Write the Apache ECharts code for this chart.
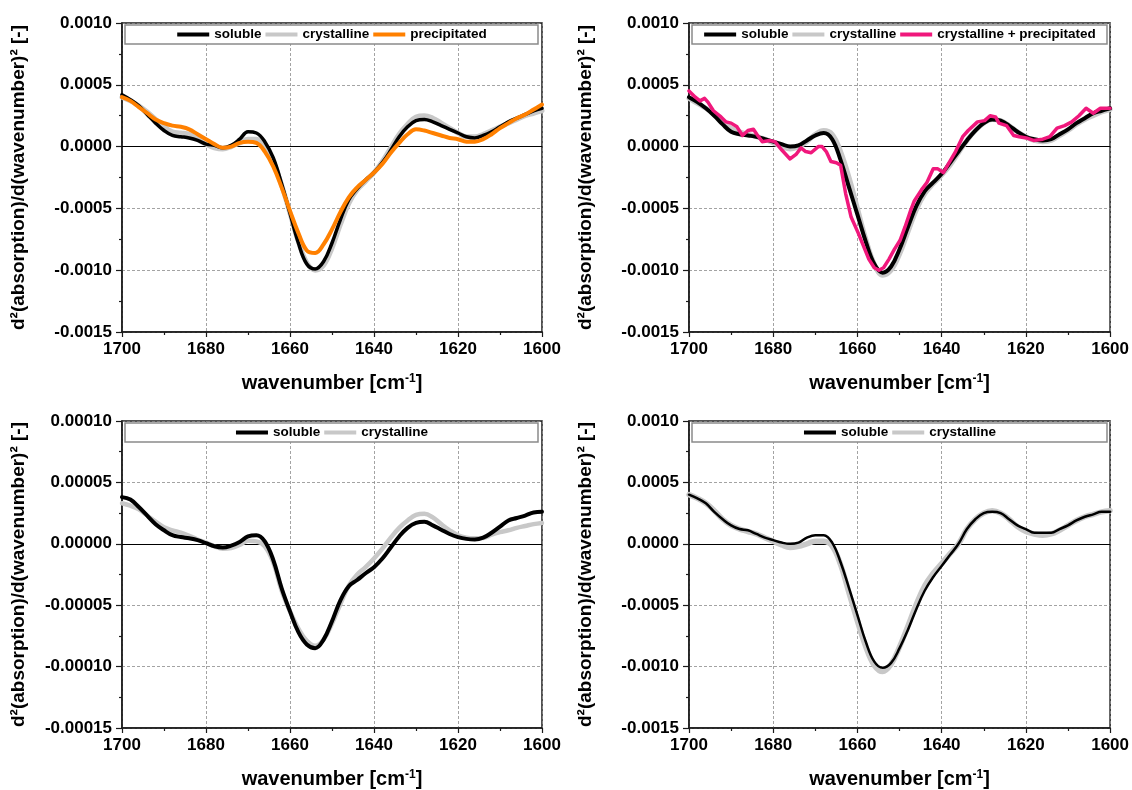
<!DOCTYPE html>
<html>
<head>
<meta charset="utf-8">
<script src="https://cdn.jsdelivr.net/npm/echarts@6/dist/echarts.min.js"></script>
<style>
  html, body { margin: 0; padding: 0; background: #ffffff; }
  #chart { width: 1132px; height: 790px; }
</style>
</head>
<body>
<div id="chart"></div>
<script>
// ---- wavenumber grid shared by the smooth spectra [cm^-1] ----
const wavenumbers = [
  1700, 1698, 1696, 1694, 1692, 1690, 1688, 1686, 1684, 1682,
  1680, 1678, 1676, 1674, 1672, 1670, 1668, 1666, 1664, 1662,
  1660, 1658, 1656, 1654, 1652, 1650, 1648, 1646, 1644, 1642,
  1640, 1638, 1636, 1634, 1632, 1630, 1628, 1626, 1624, 1622,
  1620, 1618, 1616, 1614, 1612, 1610, 1608, 1606, 1604, 1602,
  1600
];

// ---- panel A: soluble / crystalline / precipitated ----
const aSoluble = [
  0.00042, 0.00038, 0.00033, 0.00026, 0.00019, 0.00013, 0.00009, 0.00008, 0.00007, 0.00005,
  0.00002, 0.00001, -0.00001, 0.00001, 0.00006, 0.00012, 0.00011, 0.00004, -0.00009, -0.0003,
  -0.00054, -0.00078, -0.00095, -0.00099, -0.00093, -0.00078, -0.00059, -0.00043, -0.00034, -0.00027,
  -0.00021, -0.00013, -0.00003, 0.00008, 0.00016, 0.00021, 0.00022, 0.0002, 0.00017, 0.00014,
  0.00011, 0.00008, 0.00007, 0.00009, 0.00012, 0.00016, 0.0002, 0.00023, 0.00026, 0.00029,
  0.00031
];
const aCrystalline = [
  0.0004, 0.00037, 0.00033, 0.00028, 0.00022, 0.00016, 0.00012, 0.00011, 0.0001, 0.00006,
  0.00002, -0.00001, -0.00002, 0.0, 0.00003, 0.00006, 0.00006, 0.0, -0.00012, -0.00031,
  -0.00054, -0.00077, -0.00094, -0.001, -0.00096, -0.00082, -0.00063, -0.00046, -0.00035, -0.00028,
  -0.00021, -0.00012, -0.00001, 0.0001, 0.00018, 0.00024, 0.00025, 0.00023, 0.00019, 0.00015,
  0.00011, 0.00008, 0.00008, 0.0001, 0.00013, 0.00016, 0.00019, 0.00022, 0.00025, 0.00027,
  0.00029
];
const aPrecipitated = [
  0.0004, 0.00037, 0.00032, 0.00027, 0.00022, 0.00019, 0.00017, 0.00016, 0.00014, 0.0001,
  0.00006, 0.00002, -0.00001, 0.0, 0.00003, 0.00004, 0.00003, -0.00004, -0.00016, -0.00033,
  -0.00052, -0.0007, -0.00084, -0.00086, -0.00079, -0.00067, -0.00053, -0.00041, -0.00033, -0.00027,
  -0.00021, -0.00014, -0.00005, 0.00003, 0.0001, 0.00014, 0.00013, 0.00011, 0.00009, 0.00007,
  0.00006, 0.00004, 0.00004, 0.00006, 0.0001, 0.00015, 0.00019, 0.00023, 0.00026, 0.0003,
  0.00034
];

// ---- panel B: soluble / crystalline / crystalline + precipitated ----
const bSoluble = [
  0.0004, 0.00036, 0.00031, 0.00025, 0.00018, 0.00012, 0.0001, 0.00009, 0.00008, 0.00006,
  0.00004, 0.00002, 0.0, 0.00001, 0.00005, 0.00009, 0.00011, 0.00006, -0.00011, -0.00033,
  -0.00055, -0.00077, -0.00095, -0.00102, -0.00097, -0.00083, -0.00065, -0.00048, -0.00036, -0.00029,
  -0.00022, -0.00013, -0.00004, 0.00005, 0.00013, 0.00019, 0.00022, 0.00021, 0.00017, 0.00012,
  0.00008, 0.00006, 0.00005, 0.00006, 0.0001, 0.00014, 0.00019, 0.00023, 0.00027, 0.00029,
  0.00031
];
const bCrystalline = [
  0.00039, 0.00035, 0.00031, 0.00026, 0.0002, 0.00015, 0.00012, 0.0001, 0.00008, 0.00006,
  0.00003, 0.0, -0.00002, 0.0, 0.00004, 0.0001, 0.00013, 0.0001, -0.00004, -0.00025,
  -0.0005, -0.00075, -0.00095, -0.00104, -0.001, -0.00087, -0.00069, -0.00051, -0.00038, -0.0003,
  -0.00023, -0.00015, -0.00005, 0.00005, 0.00013, 0.00019, 0.00022, 0.00021, 0.00017, 0.00012,
  0.00008, 0.00005, 0.00004, 0.00005, 0.00009, 0.00013, 0.00018, 0.00022, 0.00025, 0.00028,
  0.0003
];
// the mixed sample is a noisier trace, sampled on its own wavenumbers
const bMixedWavenumbers = [
  1700, 1698.5, 1697.4, 1696.3, 1695.5, 1694.2, 1692.4, 1691.2, 1690, 1688.6,
  1687.3, 1686, 1684.7, 1683.9, 1682.6, 1680.9, 1679.6, 1677.9, 1676, 1674.5,
  1673.4, 1672.3, 1671, 1669.3, 1668.4, 1667.4, 1666.3, 1665, 1664, 1662.8,
  1661.5, 1659.8, 1658.5, 1657.3, 1656, 1654.9, 1653.8, 1652.5, 1651.2, 1649.9,
  1648.7, 1647.4, 1646.5, 1644.8, 1643.5, 1642, 1640.9, 1639.6, 1638.4, 1636.7,
  1635, 1633.7, 1631.5, 1629.8, 1628.5, 1627.2, 1626.4, 1624.6, 1622.9, 1621.6,
  1619.9, 1618.2, 1616, 1614.3, 1612.6, 1610.8, 1609.1, 1607.4, 1605.7, 1604,
  1602.3, 1600
];
const bMixed = [
  0.00045, 0.0004, 0.00037, 0.00039, 0.00036, 0.00029, 0.00024, 0.0002, 0.00019, 0.00016,
  0.00009, 0.00013, 0.00014, 0.0001, 0.00004, 0.00005, 0.00004, -0.00003, -0.0001, -0.00006,
  -0.00001, -0.00004, -0.00005, 0.0, 0.0, -0.00004, -0.00012, -0.00013, -0.00015, -0.00038,
  -0.00057, -0.0007, -0.00081, -0.00091, -0.00098, -0.001, -0.00098, -0.00091, -0.00083, -0.00076,
  -0.00065, -0.00052, -0.00044, -0.00035, -0.00029, -0.00018, -0.00018, -0.00021, -0.00014, -0.00004,
  0.00008, 0.00013, 0.0002, 0.00021, 0.00025, 0.00024, 0.00019, 0.00017, 0.00009, 0.00008,
  0.00007, 0.00005, 0.00006, 0.00008, 0.00015, 0.00017, 0.0002, 0.00025, 0.00031, 0.00027,
  0.00031, 0.00031
];

// ---- panel C: soluble / crystalline (tenfold smaller scale) ----
const cSoluble = [
  0.000038, 0.000036, 0.00003, 0.000023, 0.000016, 0.000011, 0.000007, 0.0000055, 0.0000045, 0.000003,
  0.0000005, -0.000002, -0.000003, -0.0000015, 0.0000015, 0.000006, 0.000007, 0.000002, -0.000013, -0.000036,
  -0.000055, -0.000072, -0.000082, -0.000085, -0.000078, -0.000063, -0.000046, -0.0000345, -0.0000295, -0.000024,
  -0.000019, -0.000012, -0.000003, 0.000006, 0.000013, 0.000017, 0.000018, 0.000015, 0.0000115, 0.000008,
  0.0000055, 0.000004, 0.0000035, 0.000005, 0.000009, 0.000014, 0.000019, 0.000021, 0.000023, 0.0000255,
  0.000026
];
const cCrystalline = [
  0.000033, 0.000031, 0.000028, 0.000023, 0.000018, 0.0000135, 0.000011, 0.000009, 0.0000065, 0.0000035,
  0.000001, -0.000002, -0.000004, -0.0000035, -0.000001, 0.0000025, 0.000002, -0.000002, -0.000015, -0.000038,
  -0.000055, -0.000069, -0.000079, -0.000083, -0.000078, -0.000065, -0.000049, -0.000034, -0.000025, -0.000019,
  -0.000012, -0.000004, 0.000005, 0.000013, 0.000019, 0.0000235, 0.0000245, 0.0000215, 0.000016, 0.000011,
  0.000007, 0.000005, 0.0000045, 0.0000048, 0.0000075, 0.0000095, 0.000011, 0.000013, 0.0000145, 0.000016,
  0.000017
];

// ---- panel D: soluble / crystalline ----
const dSoluble = [
  0.0004, 0.00037, 0.00033, 0.00026, 0.0002, 0.00015, 0.00012, 0.00011, 0.00008, 0.00005,
  0.00003, 0.00001, 0.0, 0.00001, 0.00005, 0.00007, 0.00007, 0.00001, -0.00015, -0.00036,
  -0.00058, -0.0008, -0.00096, -0.00101, -0.00097, -0.00085, -0.0007, -0.00053, -0.00038, -0.00027,
  -0.00018, -0.00009, 0.0, 0.00012, 0.0002, 0.00025, 0.00026, 0.00025, 0.0002, 0.00015,
  0.00012, 0.00009, 0.00009, 0.00009, 0.00012, 0.00015, 0.00019, 0.00022, 0.00024, 0.00026,
  0.00026
];
const dCrystalline = [
  0.0004, 0.00037, 0.00033, 0.00027, 0.0002, 0.00015, 0.00012, 0.0001, 0.00008, 0.00005,
  0.00002, -0.00001, -0.00003, -0.00002, 0.0, 0.00002, 0.00002, -0.00002, -0.00017, -0.0004,
  -0.00063, -0.00084, -0.00099, -0.00104, -0.00098, -0.00084, -0.00067, -0.00049, -0.00034, -0.00024,
  -0.00016, -0.00008, 0.0, 0.00012, 0.0002, 0.00025, 0.00027, 0.00025, 0.0002, 0.00014,
  0.0001, 0.00008, 0.00007, 0.00008, 0.00011, 0.00015, 0.00019, 0.00022, 0.00024, 0.00026,
  0.00027
];

// ---- axis ranges ----
const xRange = { min: 1600, max: 1700, step: 20 };
const yRangeLarge = { min: -0.0015, max: 0.001, step: 0.0005, decimals: 4 };
const yRangeSmall = { min: -0.00015, max: 0.0001, step: 0.00005, decimals: 5 };

// ---- styling ----
const FONT = '"Liberation Sans", Arial, Helvetica, sans-serif';
const INK = '#1a1a1a';
const COLORS = {
  soluble: '#000000',
  crystalline: '#c8c8c8',
  precipitated: '#ff8000',
  'crystalline + precipitated': '#f0187c'
};
const LEGEND_ITEM_W = 32;
const LEGEND_ITEM_H = 4;
const LEGEND_GAP = 4;
const LEGEND_FONT_SIZE = 13.5;

const pair = (xs, ys) => xs.map((x, i) => [x, ys[i]]);

const panels = [
  {
    box: { left: 122, top: 23, width: 420, height: 309 },
    y: yRangeLarge,
    legend: ['soluble', 'crystalline', 'precipitated'],
    lines: [
      { name: 'crystalline', data: pair(wavenumbers, aCrystalline), width: 5 },
      { name: 'soluble', data: pair(wavenumbers, aSoluble), width: 3.5 },
      { name: 'precipitated', data: pair(wavenumbers, aPrecipitated), width: 4 }
    ]
  },
  {
    box: { left: 689, top: 23, width: 422, height: 309 },
    y: yRangeLarge,
    legend: ['soluble', 'crystalline', 'crystalline + precipitated'],
    lines: [
      { name: 'crystalline', data: pair(wavenumbers, bCrystalline), width: 5 },
      { name: 'soluble', data: pair(wavenumbers, bSoluble), width: 4 },
      { name: 'crystalline + precipitated', data: pair(bMixedWavenumbers, bMixed), width: 3.5, rough: true }
    ]
  },
  {
    box: { left: 122, top: 421, width: 420, height: 308 },
    y: yRangeSmall,
    legend: ['soluble', 'crystalline'],
    lines: [
      { name: 'crystalline', data: pair(wavenumbers, cCrystalline), width: 4.5 },
      { name: 'soluble', data: pair(wavenumbers, cSoluble), width: 4 }
    ]
  },
  {
    box: { left: 689, top: 421, width: 422, height: 308 },
    y: yRangeLarge,
    legend: ['soluble', 'crystalline'],
    lines: [
      { name: 'crystalline', data: pair(wavenumbers, dCrystalline), width: 5.5 },
      { name: 'soluble', data: pair(wavenumbers, dSoluble), width: 2.5 }
    ]
  }
];

// measure legend text so each legend can be centred over its own plot
const measureCtx = document.createElement('canvas').getContext('2d');
measureCtx.font = 'bold ' + LEGEND_FONT_SIZE + 'px ' + FONT;
function legendWidth(names) {
  let w = 0;
  names.forEach((n, i) => {
    w += LEGEND_ITEM_W + 5 + measureCtx.measureText(n).width;
    if (i > 0) w += LEGEND_GAP;
  });
  return w;
}

const tickLabel = { color: '#000', fontSize: 17, fontWeight: 'bold', fontFamily: FONT };
const nameStyle = { color: '#000', fontSize: 19, fontWeight: 'bold', fontFamily: FONT };

const option = {
  backgroundColor: '#ffffff',
  animation: false,
  grid: [], xAxis: [], yAxis: [], series: [], legend: [], graphic: []
};

panels.forEach((p, gi) => {
  option.grid.push(Object.assign({
    show: true, borderColor: INK, borderWidth: 1.5, backgroundColor: 'transparent',
    containLabel: false
  }, p.box));

  option.xAxis.push({
    gridIndex: gi, type: 'value',
    min: xRange.min, max: xRange.max, interval: xRange.step, inverse: true,
    axisLine: { show: true, onZero: false, lineStyle: { color: INK, width: 1.5 } },
    axisTick: { show: true, inside: false, length: 5, lineStyle: { color: INK, width: 1.2 } },
    minorTick: { show: true, splitNumber: 2, length: 3, lineStyle: { color: INK, width: 1.2 } },
    splitLine: { show: true, lineStyle: { color: '#8c8c8c', type: [3, 2], width: 0.8 } },
    axisLabel: Object.assign({ margin: 9, formatter: v => String(v) }, tickLabel),
    name: 'wavenumber [cm{sup|-1}]',
    nameLocation: 'middle', nameGap: 41,
    nameTextStyle: Object.assign({}, nameStyle, {
      fontSize: 20,
      rich: {
        sup: { fontSize: 12, fontWeight: 'bold', fontFamily: FONT, color: '#000',
               verticalAlign: 'top', lineHeight: 14 }
      }
    })
  });

  const yr = p.y;
  option.yAxis.push({
    gridIndex: gi, type: 'value',
    min: yr.min, max: yr.max, interval: yr.step,
    axisLine: { show: true, onZero: false, lineStyle: { color: INK, width: 1.5 } },
    axisTick: { show: true, inside: false, length: 6, lineStyle: { color: INK, width: 1.2 } },
    minorTick: { show: true, splitNumber: 2, length: 3, lineStyle: { color: INK, width: 1.2 } },
    splitLine: { show: true, lineStyle: { color: '#8c8c8c', type: [3, 2], width: 0.8 } },
    axisLabel: Object.assign({
      margin: 10,
      formatter: v => (Math.abs(v) < 1e-12 ? 0 : v).toFixed(yr.decimals)
    }, tickLabel),
    name: 'd\u00B2(absorption)/d(wavenumber)\u00B2 [-]',
    nameLocation: 'middle', nameGap: 94,
    nameTextStyle: nameStyle
  });

  p.lines.forEach((ln, si) => {
    const s = {
      type: 'line', name: ln.name, xAxisIndex: gi, yAxisIndex: gi,
      data: ln.data, showSymbol: false, symbol: 'none',
      smooth: ln.rough ? false : 0.4,
      color: COLORS[ln.name],
      lineStyle: { color: COLORS[ln.name], width: ln.width, join: 'round', cap: 'round' },
      emphasis: { disabled: true }, silent: true, z: 3 + si
    };
    if (si === 0) {
      // solid zero reference line
      s.markLine = {
        silent: true, symbol: 'none', z: 1,
        label: { show: false },
        lineStyle: { color: '#000', type: 'solid', width: 1.2 },
        data: [{ yAxis: 0 }]
      };
    }
    option.series.push(s);
  });

  const lw = legendWidth(p.legend);
  option.legend.push({
    data: p.legend,
    left: p.box.left + p.box.width / 2 - lw / 2,
    top: p.box.top + 4,
    padding: 0,
    icon: 'rect',
    itemWidth: LEGEND_ITEM_W, itemHeight: LEGEND_ITEM_H, itemGap: LEGEND_GAP,
    selectedMode: false,
    textStyle: { color: '#000', fontSize: LEGEND_FONT_SIZE, fontWeight: 'bold', fontFamily: FONT, lineHeight: 15 },
    z: 6
  });

  option.graphic.push({
    type: 'rect', z: 5, silent: true,
    shape: { x: p.box.left + 3, y: p.box.top + 2, width: p.box.width - 7, height: 19 },
    style: { fill: '#ffffff', stroke: '#8a8a8a', lineWidth: 1.5 }
  });
});

const chart = echarts.init(document.getElementById('chart'), null, { renderer: 'canvas' });
chart.setOption(option);
</script>
</body>
</html>
